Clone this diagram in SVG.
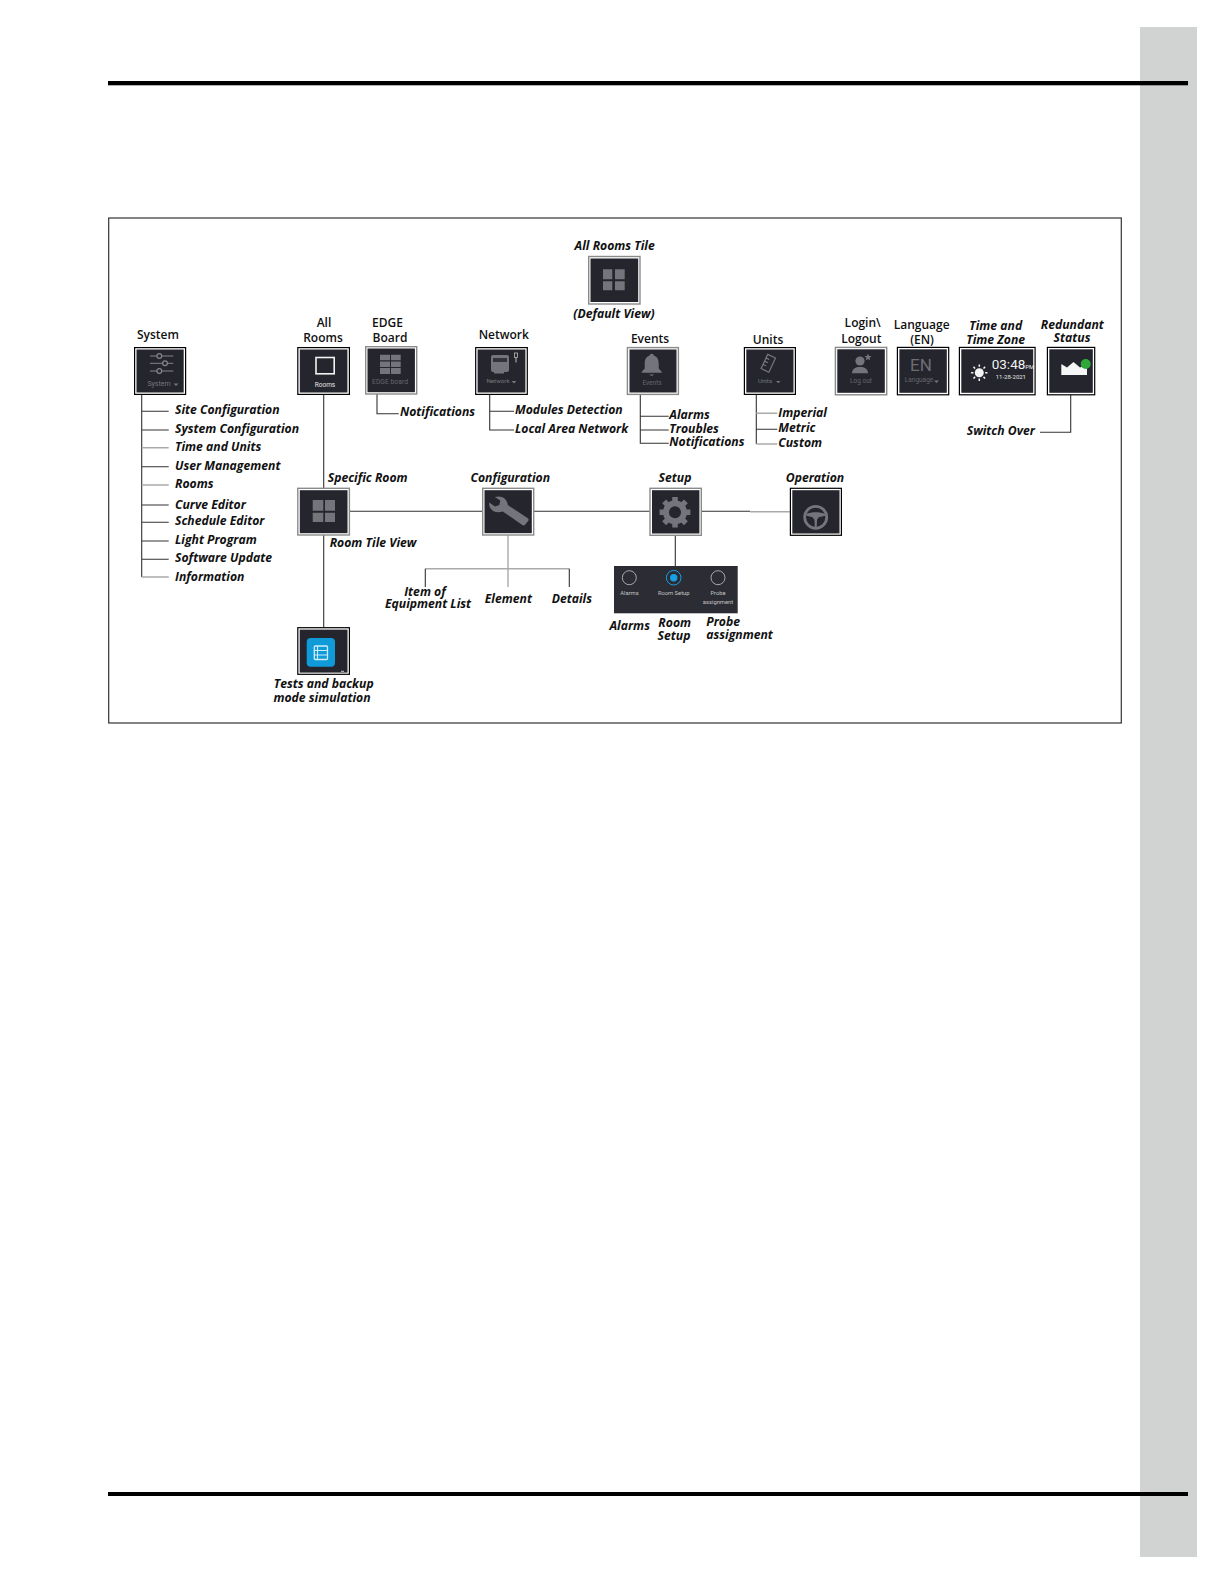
<svg xmlns="http://www.w3.org/2000/svg" width="1224" height="1584" viewBox="0 0 1224 1584">
<defs>
<style>
text{font-family:"Open Sans","Noto Sans","DejaVu Sans",sans-serif;fill:#111;}
.l{font-size:12.2px;font-weight:700;font-style:italic;}
.b{font-size:12px;font-weight:600;}
.m{text-anchor:middle;}
.s{font-family:"Roboto","Liberation Sans",sans-serif;font-size:7px;fill:#77787d;text-anchor:middle;}
.p{font-family:"Roboto","Liberation Sans",sans-serif;font-size:5.8px;fill:#c4c4c4;text-anchor:middle;}
.o{fill:#fff;stroke:#000;stroke-width:1.2;}
.og{fill:#fff;stroke:#8a8a8a;stroke-width:1.4;}
.i{fill:#24252d;}
.ic{fill:#74757a;}
.ln{fill:none;stroke:#333;stroke-width:1.1;}
.lg{fill:none;stroke:#aaa;stroke-width:1.4;}
.sl{fill:none;stroke:#85868a;stroke-width:1;}
</style>
</defs>
<rect x="1140" y="27" width="57" height="1530" fill="#d1d3d2"/>
<rect x="108" y="81" width="1080" height="4.3" fill="#000"/>
<rect x="108" y="1492" width="1080" height="4" fill="#000"/>
<rect x="108.700" y="218" width="1012.600" height="505" fill="none" stroke="#333" stroke-width="1.200"/>

<g id="connectors">
<path class="ln" d="M141.700 394V577M141.700 411.300H168.700M141.700 430H168.700M141.700 466.700H168.700M141.700 505H168.700M141.700 522.300H168.700M141.700 541H168.700M141.700 559.300H168.700"/>
<path class="lg" d="M141.700 447.700H168.700M141.700 485H168.700M141.700 577H168.700"/>
<path class="ln" d="M323.700 394V488M323.700 535V627M349.700 511.300H482.300M534 511.300H649.700M701.700 511.300H750"/>
<path class="lg" d="M750 511.800H790"/>
<path class="lg" d="M508 535V587M425.300 568.700H569.300"/>
<path class="ln" d="M425.300 568.700V587M569.300 568.700V587M675.300 535.600V566"/>
<path class="sl" d="M607.500 300V304"/>
<path class="ln" d="M377 394V413.700H398.700"/>
<path class="ln" d="M489.700 394V430H514M489.700 411.300H514"/>
<path class="ln" d="M640.300 394V443.300H668.700M640.300 416.300H668.700M640.300 430H668.700"/>
<path class="ln" d="M756.300 394V444M756.300 429.300H777.300"/>
<path class="lg" d="M756.300 413.300H777.300M756.300 444H777.300"/>
<path class="ln" d="M1070.700 395V432.300H1040"/>
</g>

<g id="branch-labels">
<text class="l" x="175" y="414.200">Site Configuration</text>
<text class="l" x="175" y="433.200">System Configuration</text>
<text class="l" x="175" y="450.800">Time and Units</text>
<text class="l" x="175" y="469.500">User Management</text>
<text class="l" x="175" y="487.900">Rooms</text>
<text class="l" x="175" y="508.900">Curve Editor</text>
<text class="l" x="175" y="525.200">Schedule Editor</text>
<text class="l" x="175" y="543.900">Light Program</text>
<text class="l" x="175" y="562.200">Software Update</text>
<text class="l" x="175" y="581.200">Information</text>
<text class="l" x="400" y="416.200">Notifications</text>
<text class="l" x="515" y="414.200">Modules Detection</text>
<text class="l" x="515" y="433.200">Local Area Network</text>
<text class="l" x="669.300" y="419.200">Alarms</text>
<text class="l" x="669.300" y="432.900">Troubles</text>
<text class="l" x="669.300" y="446.200">Notifications</text>
<text class="l" x="778.300" y="416.900">Imperial</text>
<text class="l" x="778.300" y="432.200">Metric</text>
<text class="l" x="778.300" y="446.900">Custom</text>
<text class="l" x="966.700" y="435.200">Switch Over</text>
<text class="l" x="329.700" y="547.200">Room Tile View</text>
<text class="l m" x="425" y="595.900">Item of</text>
<text class="l m" x="428" y="608.200">Equipment List</text>
<text class="l m" x="508.300" y="602.900">Element</text>
<text class="l" x="551.700" y="602.900">Details</text>
<text class="l m" x="629.700" y="630.200">Alarms</text>
<text class="l m" x="674.700" y="627.200">Room</text>
<text class="l m" x="674" y="639.500">Setup</text>
<text class="l" x="706.300" y="626.200">Probe</text>
<text class="l" x="706.300" y="638.500">assignment</text>
</g>

<g id="node-all-rooms-tile">
<text class="l m" x="614.700" y="249.500">All Rooms Tile</text>
<rect class="og" x="588.700" y="256.500" width="51.300" height="47.500"/><rect class="i" x="590.500" y="258.500" width="47.700" height="43.500"/>
<path class="ic" d="M603 269.300h9.300v10h-9.300zM615 269.300h9.700v10h-9.700zM603 281.300h9.300v9h-9.300zM615 281.300h9.700v9h-9.700z"/>
<text class="l m" x="614" y="317.500">(Default View)</text>
</g>

<g id="node-system">
<text class="b" x="137" y="339.300">System</text>
<rect class="o" x="134.600" y="347.600" width="51" height="46.800"/><rect class="i" x="136.500" y="349.500" width="47.200" height="43"/>
<path class="sl" d="M150 356H173.300M150 363.300H173.300M150 371H173.300"/>
<g fill="#24252d" stroke="#85868a" stroke-width="1.200"><circle cx="159.300" cy="356" r="2.400"/><circle cx="165" cy="363.300" r="2.400"/><circle cx="159.300" cy="371" r="2.400"/></g>
<text class="s" x="159" y="386">System</text><path class="ic" d="M173.500 383.500h5l-2.500 2.500z"/>
</g>

<g id="node-all-rooms">
<text class="b m" x="324" y="327.300">All</text><text class="b m" x="323" y="342.300">Rooms</text>
<rect class="o" x="297.800" y="347.600" width="51.600" height="46.800"/><rect class="i" x="299.800" y="349.500" width="47.600" height="43"/>
<rect x="316" y="357.500" width="18.200" height="16.300" fill="none" stroke="#f2f2f2" stroke-width="1.600"/>
<text class="s" x="325" y="386.700" style="fill:#e4e4e4;font-size:6.500px">Rooms</text>
</g>

<g id="node-edge-board">
<text class="b" x="372" y="327.300">EDGE</text><text class="b" x="372.500" y="342.300">Board</text>
<rect class="og" x="365.700" y="346.700" width="51" height="47.300"/><rect class="i" x="367.500" y="348.500" width="47.400" height="43.700"/>
<path class="ic" d="M380 354.700h10v5.600h-10zM391 354.700h9.700v5.600H391zM380 361.500h10v5.400h-10zM391 361.500h9.700v5.400H391zM380 368h10v6h-10zM391 368h9.700v6H391z"/>
<text class="s" x="390" y="384" style="font-size:6.800px;fill:#66676c">EDGE board</text>
</g>

<g id="node-network">
<text class="b" x="478.700" y="339.300">Network</text>
<rect class="o" x="475.700" y="347.600" width="51.600" height="46.800"/><rect class="i" x="477.600" y="349.500" width="47.800" height="43"/>
<path d="M491 357a2 2 0 0 1 2-2h14a2 2 0 0 1 2 2v13a2 2 0 0 1-2 2h-3v1.500h-10v-1.500h-1a2 2 0 0 1-2-2z" class="ic"/><rect x="493" y="358" width="14" height="4" fill="#33343b"/>
<path d="M516 357.500v5" stroke="#bbb" stroke-width="1"/><rect x="514.500" y="353" width="3" height="4.500" fill="none" stroke="#bbb" stroke-width=".8"/>
<text class="s" x="498" y="383" style="font-size:6.200px">Network</text><path class="ic" d="M511.500 381h5l-2.500 2.500z"/>
</g>

<g id="node-events">
<text class="b m" x="650" y="343">Events</text>
<rect class="og" x="627.400" y="347.600" width="51" height="46.800"/><rect class="i" x="629.500" y="349.500" width="47" height="43"/>
<path class="ic" d="M651.700 353.800c1.300 0 2 .7 2 1.800 3.700 1.200 5 4 5 8.400v4.500l3 3.200v1h-20v-1l3-3.200V364c0-4.400 1.300-7.200 5-8.400 0-1.100.7-1.800 2-1.800zM649 374.500h5.400l-2.700 1.500z"/>
<text class="s" x="652" y="384.700" style="font-size:6.500px;fill:#66676c">Events</text>
</g>

<g id="node-units">
<text class="b m" x="768" y="344">Units</text>
<rect class="o" x="744.400" y="347.600" width="51" height="46.800"/><rect class="i" x="746.300" y="349.500" width="47.200" height="43"/>
<g transform="rotate(25 768.300 363.300)"><rect x="764" y="355.500" width="8.600" height="15.600" fill="none" stroke="#77787d" stroke-width="1.200"/><path class="sl" d="M764 359.500h3.500M764 363h3.500M764 366.500h3.500"/></g>
<text class="s" x="765" y="383" style="font-size:6.200px">Units</text><path class="ic" d="M776 381h4.500l-2.200 2.300z"/>
</g>

<g id="node-login">
<text class="b m" x="862.700" y="327">Login\</text><text class="b m" x="861.300" y="343">Logout</text>
<rect class="og" x="835.400" y="347.400" width="51.300" height="47.400"/><rect class="i" x="837.300" y="349.300" width="47.500" height="43.500"/>
<circle class="ic" cx="860" cy="361" r="4.600"/><path class="ic" d="M852 373.200c0-4.500 3.500-6.300 8-6.300s8 1.800 8 6.300z"/>
<path class="ic" d="M868 353.500l1 2.400 2.500.2-1.900 1.600.6 2.500-2.200-1.300-2.200 1.300.6-2.500-1.900-1.600 2.500-.2z"/>
<text class="s" x="861" y="383" style="font-size:6.500px;fill:#66676c">Log out</text>
</g>

<g id="node-language">
<text class="b m" x="921.700" y="329">Language</text><text class="b m" x="922" y="344">(EN)</text>
<rect class="o" x="897.400" y="347.400" width="51.300" height="47.400"/><rect class="i" x="899.400" y="349.300" width="47.400" height="43.500"/>
<text x="921" y="371" text-anchor="middle" style="font-family:'Roboto',sans-serif;font-size:17px;fill:#6d6e73">EN</text>
<text class="s" x="919" y="382" style="font-size:6.500px;fill:#66676c">Language</text><path class="ic" d="M934 380.500h5l-2.500 2.500z"/>
</g>

<g id="node-time">
<text class="l m" x="995.700" y="330.200">Time and</text><text class="l m" x="995.700" y="344.200">Time Zone</text>
<rect class="o" x="959.400" y="347.400" width="75.700" height="47.400"/><rect class="i" x="961.300" y="349.300" width="71.900" height="43.500"/>
<circle cx="979.300" cy="372.700" r="4.500" fill="#f4f4f4"/>
<path d="M979.300 364.500v2.300M979.300 378.600v2.300M971.100 372.700h2.300M985.200 372.700h2.300M973.500 366.900l1.600 1.600M983.500 376.900l1.600 1.600M985.100 366.900l-1.600 1.600M975.100 376.900l-1.600 1.600" stroke="#f4f4f4" stroke-width="1.500" fill="none"/>
<text x="991.700" y="369.300" style="font-family:'Roboto',sans-serif;font-size:13.500px;fill:#f2f2f2">03:48<tspan font-size="6">PM</tspan></text>
<text x="1026" y="379.300" text-anchor="end" style="font-family:'Roboto',sans-serif;font-size:6px;fill:#e4e4e4">11-28-2021</text>
</g>

<g id="node-redundant">
<text class="l m" x="1072.300" y="328.500">Redundant</text><text class="l m" x="1072" y="342.200">Status</text>
<rect class="o" x="1047.400" y="347.400" width="47.300" height="47.400"/><rect class="i" x="1049.300" y="349.300" width="43.500" height="43.500"/>
<path d="M1061.300 364l5.700 3.500 6.500-5.500 6.500 5.500 7-3.500v11h-25.700z" fill="#f6f6f6"/>
<circle cx="1085.700" cy="364" r="5" fill="#2fa83a"/>
</g>

<g id="node-specific-room">
<text class="l" x="327.700" y="482.200">Specific Room</text>
<rect class="og" x="297.800" y="488.300" width="51.600" height="46.700"/><rect class="i" x="299.800" y="490.200" width="47.700" height="43"/>
<path class="ic" d="M312.700 500h10.600v10.700h-10.600zM325 500h10v10.700h-10zM312.700 512.700h10.600V522h-10.600zM325 512.700h10V522h-10z"/>
</g>

<g id="node-configuration">
<text class="l m" x="510.300" y="482.200">Configuration</text>
<rect class="og" x="482.700" y="488.300" width="51" height="46.700"/><rect class="i" x="484.500" y="490.200" width="47.300" height="43"/>
<path class="ic" d="M489.200 502.500l5.800 4 4.300-1.500 1-4.500-5.500-3.500c6.500-2 12.500 1.500 13 8l19.700 13c1.300 1 1.500 1.700.6 3l-2.800 3.500c-1 1-1.800 1.200-3 .4l-19.500-13.400c-7.500 2.800-14.600-2-13.600-9z"/>
</g>

<g id="node-setup">
<text class="l m" x="675" y="482.200">Setup</text>
<rect class="og" x="650" y="488.300" width="51.300" height="47"/><rect class="i" x="652" y="490.200" width="47.400" height="43.300"/>
<circle cx="675" cy="512.300" r="12" fill="#74757a"/>
<path d="M675 497v6M675 521.600v6M659.600 512.300h6M684.400 512.300h6M664.100 501.400l4.200 4.200M681.700 519l4.200 4.200M685.900 501.400l-4.200 4.200M668.300 519l-4.200 4.200" stroke="#74757a" stroke-width="5.500" fill="none"/>
<circle cx="675" cy="512.300" r="6" fill="#24252d"/>
</g>

<g id="node-operation">
<text class="l m" x="815" y="482.200">Operation</text>
<rect class="o" x="790.400" y="488.300" width="51" height="47"/><rect class="i" x="792.300" y="490.200" width="47.200" height="43.300"/>
<circle cx="815.700" cy="517.300" r="11" fill="none" stroke="#74757a" stroke-width="2.800"/>
<path class="ic" d="M806 514c6-2.500 13.500-2.500 19.400 0l-.3 1.800-7 1.700-1 1.500-.4 8h-1.900l-.4-8-1-1.500-6.700-1.700z"/>
<circle class="ic" cx="815.700" cy="517" r="2.600"/>
</g>

<g id="node-tests">
<rect class="o" x="297.800" y="627.700" width="51.600" height="46.600"/><rect class="i" x="299.700" y="629.600" width="47.800" height="43"/>
<rect x="306.700" y="638" width="28.300" height="28.700" rx="4" fill="#0f9ad8"/>
<rect x="314.300" y="646" width="13.200" height="13.500" rx="1" fill="none" stroke="#cfeeff" stroke-width="1.300"/>
<path d="M314.300 650.500h13.200M314.300 655h13.200M317.500 646v13.500" stroke="#cfeeff" stroke-width="1.100" fill="none"/>
<path d="M341 671.300h3" stroke="#ccc" stroke-width="1"/>
<text class="l m" x="323.700" y="688.200">Tests and backup</text><text class="l m" x="322" y="702">mode simulation</text>
</g>

<g id="node-setup-panel">
<rect x="614" y="566" width="123.700" height="47.300" fill="#2b2c34"/>
<circle cx="629.300" cy="577.700" r="7" fill="none" stroke="#b5b5b5" stroke-width=".9"/>
<circle cx="673.700" cy="577.700" r="7.300" fill="none" stroke="#18a0e6" stroke-width="1"/><circle cx="673.700" cy="577.700" r="3.700" fill="#18a0e6"/>
<circle cx="718" cy="577.700" r="7" fill="none" stroke="#b5b5b5" stroke-width=".9"/>
<text class="p" x="629.500" y="595">Alarms</text><text class="p" x="673.700" y="595">Room Setup</text><text class="p" x="718" y="595">Probe</text><text class="p" x="718" y="604">assignment</text>
</g>
</svg>
